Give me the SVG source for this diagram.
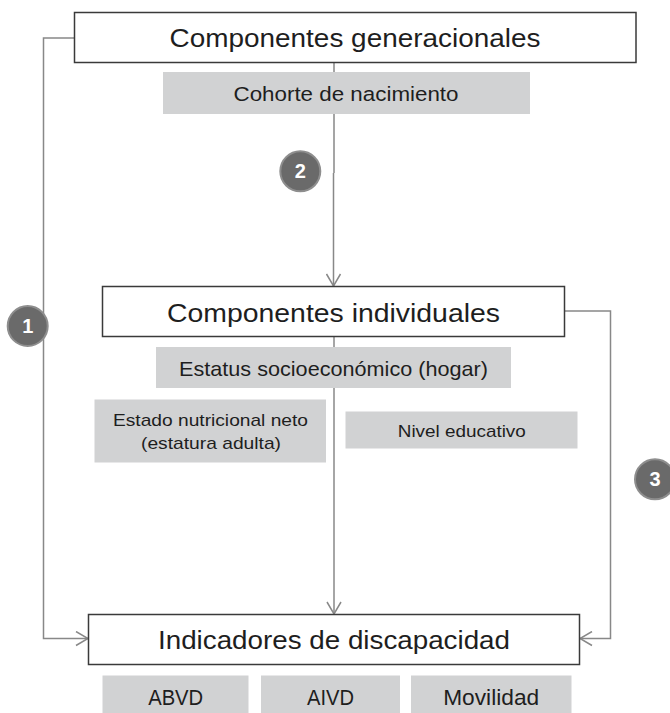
<svg xmlns="http://www.w3.org/2000/svg" width="670" height="713" viewBox="0 0 670 713">
<style>
.box{fill:#fff;stroke:#3a3a3a;stroke-width:1.5}
.gbox{fill:#d1d2d3;stroke:none}
.t{font-family:"Liberation Sans",Arial,sans-serif;fill:#1e1e1e;text-anchor:middle}
.conn{fill:none;stroke:#888;stroke-width:1.5}
.badge circle{fill:#6a6a6a;stroke:#8e8e8e;stroke-width:2}
.badge text{font-family:"Liberation Sans",Arial,sans-serif;font-weight:bold;font-size:20px;fill:#fff;text-anchor:middle}
</style>
<defs>
<marker id="arr" viewBox="0 0 14 16" refX="13" refY="8" markerWidth="14" markerHeight="16" markerUnits="userSpaceOnUse" orient="auto">
<path d="M1 1 L13 8 L1 15" fill="none" stroke="#888" stroke-width="1.5"/>
</marker>
</defs>
<g id="connectors">
<path class="conn" d="M74 38 H43.5 V638.5 H88" marker-end="url(#arr)"/>
<path class="conn" d="M334 62 V173 M333.5 173 V286" marker-end="url(#arr)"/>
<path class="conn" d="M334 337 V614" marker-end="url(#arr)"/>
<path class="conn" d="M564 311 H610.5 V638.5 H580" marker-end="url(#arr)"/>
</g>
<g id="componentes-generacionales">
<rect class="box" x="74.5" y="12.5" width="561.5" height="50"/>
<text class="t" x="355" y="47" font-size="26.5" textLength="371" lengthAdjust="spacingAndGlyphs">Componentes generacionales</text>
</g>
<g id="cohorte">
<rect class="gbox" x="163" y="72" width="367" height="42"/>
<text class="t" x="346" y="100.5" font-size="20.5" textLength="225" lengthAdjust="spacingAndGlyphs">Cohorte de nacimiento</text>
</g>
<g id="componentes-individuales">
<rect class="box" x="102.5" y="286.5" width="462" height="50"/>
<text class="t" x="333.5" y="322" font-size="26.5" textLength="333" lengthAdjust="spacingAndGlyphs">Componentes individuales</text>
</g>
<g id="estatus">
<rect class="gbox" x="156" y="347" width="355" height="41"/>
<text class="t" x="333.5" y="376" font-size="21" textLength="309" lengthAdjust="spacingAndGlyphs">Estatus socioeconómico (hogar)</text>
</g>
<g id="estado-nutricional">
<rect class="gbox" x="94.5" y="399.5" width="231.5" height="63"/>
<text class="t" x="210.5" y="426" font-size="17" textLength="195" lengthAdjust="spacingAndGlyphs">Estado nutricional neto</text>
<text class="t" x="211" y="448.5" font-size="17" textLength="140" lengthAdjust="spacingAndGlyphs">(estatura adulta)</text>
</g>
<g id="nivel-educativo">
<rect class="gbox" x="345.5" y="411.5" width="232" height="37"/>
<text class="t" x="461.8" y="436.5" font-size="17" textLength="128" lengthAdjust="spacingAndGlyphs">Nivel educativo</text>
</g>
<g id="indicadores">
<rect class="box" x="88.5" y="614.5" width="491" height="50"/>
<text class="t" x="334" y="649" font-size="26.5" textLength="352" lengthAdjust="spacingAndGlyphs">Indicadores de discapacidad</text>
</g>
<g id="abvd">
<rect class="gbox" x="102.5" y="675.5" width="146" height="38"/>
<text class="t" x="175.7" y="705" font-size="21.5" textLength="55" lengthAdjust="spacingAndGlyphs">ABVD</text>
</g>
<g id="aivd">
<rect class="gbox" x="261" y="675.5" width="139" height="38"/>
<text class="t" x="330.5" y="705" font-size="21.5" textLength="47" lengthAdjust="spacingAndGlyphs">AIVD</text>
</g>
<g id="movilidad">
<rect class="gbox" x="411" y="675.5" width="160.5" height="38"/>
<text class="t" x="491.2" y="705" font-size="21.5" textLength="96" lengthAdjust="spacingAndGlyphs">Movilidad</text>
</g>
<g id="badge-1" class="badge">
<circle cx="27.7" cy="326" r="20"/>
<text x="27.7" y="333">1</text>
</g>
<g id="badge-2" class="badge">
<circle cx="300.3" cy="171.3" r="20"/>
<text x="300.3" y="178.3">2</text>
</g>
<g id="badge-3" class="badge">
<circle cx="655" cy="479.3" r="20"/>
<text x="655" y="486.3">3</text>
</g>
</svg>
